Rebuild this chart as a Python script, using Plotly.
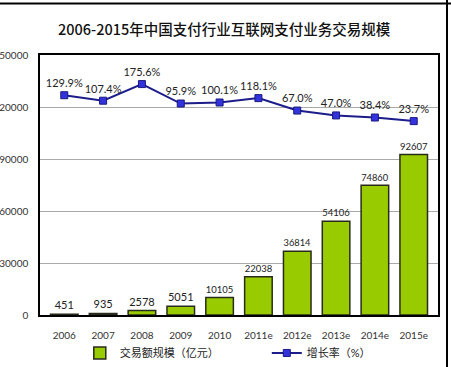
import plotly.graph_objects as go

years = ["2006", "2007", "2008", "2009", "2010", "2011e", "2012e", "2013e", "2014e", "2015e"]
volume = [451, 935, 2578, 5051, 10105, 22038, 36814, 54106, 74860, 92607]
growth = [129.9, 107.4, 175.6, 95.9, 100.1, 118.1, 67.0, 47.0, 38.4, 23.7]
growth_labels = [f"{g:.1f}%" for g in growth]
y_ticks = [0, 30000, 60000, 90000, 120000, 150000]

W, H = 451, 367
L, R, T, B = 40, 13, 55, 52
pw, ph = W - L - R, H - T - B

FONT = "Lato, Noto Sans CJK SC, sans-serif"

fig = go.Figure()
fig.add_trace(go.Bar(
    x=years, y=volume, name="交易额规模（亿元）",
    marker=dict(color="#99cc00", line=dict(color="#2a2a1a", width=1.5)),
    text=[str(v) for v in volume], textposition="outside",
    textfont=dict(size=11, color="#222222", family=FONT),
    cliponaxis=False,
))
fig.add_trace(go.Scatter(
    x=years, y=growth, name="增长率（%）", yaxis="y2",
    mode="lines+markers+text",
    line=dict(color="#1c1c8a", width=2),
    marker=dict(symbol="square", size=7, color="#3333dd", line=dict(color="#1a1a80", width=1)),
    text=growth_labels, textposition="top center",
    textfont=dict(size=11, color="#222222", family=FONT),
    cliponaxis=False,
))

fig.update_layout(
    width=W, height=H,
    margin=dict(l=L, r=R, t=T, b=B, autoexpand=False),
    paper_bgcolor="white", plot_bgcolor="white",
    font=dict(family=FONT, color="#222222"),
    title=dict(text="2006-2015年中国支付行业互联网支付业务交易规模",
               x=0.497, xref="container", xanchor="center",
               y=(H - 30) / H, yref="container", yanchor="middle",
               font=dict(size=14.5, color="#111111", family="Noto Sans CJK SC, sans-serif",
                         weight=500)),
    bargap=0.29,
    showlegend=True,
    legend=dict(orientation="h", x=0.10, xanchor="left", y=-0.146, yanchor="middle",
                font=dict(size=11, color="#222222", family=FONT),
                entrywidth=142, bgcolor="rgba(0,0,0,0)"),
    xaxis=dict(type="category", showline=True, linecolor="black", linewidth=1.5, mirror=True,
               tickfont=dict(size=10, color="#333333"), ticks="", automargin=False,
               ticklabelstandoff=10, showgrid=False),
    yaxis=dict(range=[0, 150000], tickvals=y_ticks, ticktext=[str(v) for v in y_ticks],
               showline=True, linecolor="black", linewidth=1.5, mirror=True,
               showgrid=True, gridcolor="#aaaaaa", gridwidth=1,
               tickfont=dict(size=10, color="#333333"), ticks="",
               ticklabelstandoff=8, automargin=False, zeroline=False),
    yaxis2=dict(overlaying="y", side="right", range=[-772, 295], visible=False),
    shapes=[
        dict(type="line", xref="paper", yref="paper",
             x0=-L / pw, x1=(W - L) / pw, y0=(H - T - 0.5) / ph, y1=(H - T - 0.5) / ph,
             line=dict(color="black", width=2)),
        dict(type="line", xref="paper", yref="paper",
             x0=(447 - L) / pw, x1=(447 - L) / pw, y0=1 + T / ph, y1=-B / ph,
             line=dict(color="black", width=2)),
    ],
)

fig.write_html("out.html", config={"displayModeBar": False},
               post_script="document.body.style.margin='0';document.body.style.overflow='hidden';")
